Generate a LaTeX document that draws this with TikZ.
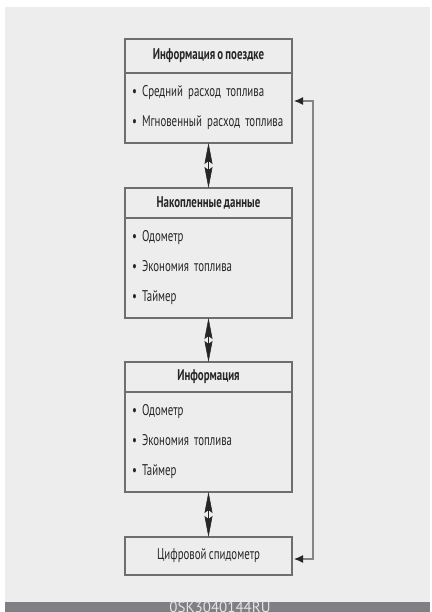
\documentclass[tikz,border=0pt]{standalone}
\usepackage{fontspec}
\setmainfont{PT Sans}[FakeStretch=0.70,WordSpace=0.8]
\newfontfamily\bandfont{PT Sans}
\usetikzlibrary{arrows.meta,positioning}
\definecolor{panel}{HTML}{EDEDED}
\definecolor{frame}{HTML}{6E6E6E}
\definecolor{ink}{HTML}{262626}
\definecolor{band}{HTML}{7F8085}
\definecolor{bandtext}{HTML}{E4E4E6}
\definecolor{wire}{HTML}{858585}
\tikzset{
  head/.style={
    draw=frame, line width=1.2pt, outer sep=0pt, inner sep=0pt,
    minimum width=167pt, minimum height=30pt,
    font=\fontsize{15.5}{18}\selectfont\bfseries, text=ink
  },
  body/.style={
    draw=frame, line width=1.2pt, outer sep=0pt,
    inner xsep=7pt, inner ysep=0pt, text width=153pt,
    minimum width=167pt, align=left,
    font=\fontsize{15.5}{30}\selectfont, text=ink
  },
  dblarr/.style={
    {Stealth[length=21pt,width=8pt,inset=3pt]}-{Stealth[length=21pt,width=8pt,inset=3pt]},
    draw=ink, line width=0.6pt
  },
  sidearr/.style={
    {Latex[length=9pt,width=8pt,color=ink]}-{Latex[length=9pt,width=8pt,color=ink]},
    draw=wire, line width=1.2pt
  }
}
\begin{document}
\begin{tikzpicture}[x=1pt,y=-1pt]
  \useasboundingbox (0,0) rectangle (431,612);
  \fill[white] (0,0) rectangle (431,612);
  \fill[panel] (5,7) rectangle (430,602);
  \fill[band] (5,602) rectangle (430,612);
  \node[font=\bandfont\fontsize{15}{18}\selectfont, text=bandtext, anchor=north, inner sep=0pt] (code) at (220,602) {0SK3040144RU};

  \node[head, minimum height=34pt] (triphead) at (208.5,56) {Информация о поездке};
  \node[body, minimum height=70pt, below=0pt of triphead] (tripbody) {\mbox{• Средний расход топлива}\\\mbox{• Мгновенный расход топлива}};
  \node[head, below=45pt of tripbody] (accuhead) {Накопленные данные};
  \node[body, minimum height=100pt, below=0pt of accuhead] (accubody) {• Одометр\\• Экономия топлива\\• Таймер};
  \node[head, below=44pt of accubody] (infohead) {Информация};
  \node[body, minimum height=100pt, below=0pt of infohead] (infobody) {• Одометр\\• Экономия топлива\\• Таймер};
  \node[head, minimum height=38pt, font=\fontsize{15.5}{18}\selectfont, below=45pt of infobody] (spd) {Цифровой спидометр};

  \draw[dblarr] (tripbody.south) -- (accuhead.north);
  \draw[dblarr] (accubody.south) -- (infohead.north);
  \draw[dblarr] (infobody.south) -- (spd.north);
  \draw[sidearr] ([xshift=2pt,yshift=7pt]tripbody.east) -- ++(19,0) |- ([xshift=2pt,yshift=-3pt]spd.east);
\end{tikzpicture}
\end{document}
